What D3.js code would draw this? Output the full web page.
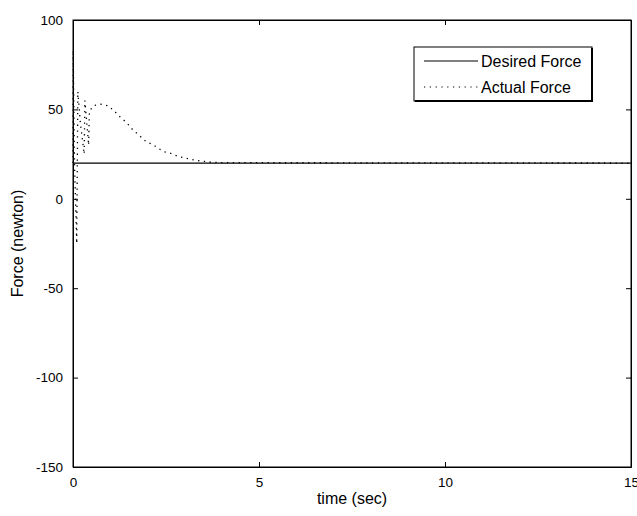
<!DOCTYPE html>
<html>
<head>
<meta charset="utf-8">
<script src="https://cdn.jsdelivr.net/npm/d3@7.9.0/dist/d3.min.js"></script>
<style>
  body { margin: 0; background: #fff; }
  svg text { font-family: "Liberation Sans", Arial, sans-serif; fill: #000; }
</style>
</head>
<body>
<svg id="chart" width="637" height="516"></svg>
<script>
// desired force is constant
const desiredTime = [0, 15];
const desiredForce = [20, 20];

// actual force (rapid transient, then a hump that settles)
const actualTime = [0, 0.005, 0.04, 0.1, 0.13, 0.2, 0.3, 0.32, 0.42, 0.44,
  0.56, 0.75, 0.93, 1.1, 1.26, 1.45, 1.61, 1.8, 1.96, 2.15, 2.31, 2.47, 2.66,
  2.82, 3.0, 3.2, 3.35, 3.51, 3.7, 4.0, 15];
const actualForce = [20, 83, 20, -25, 60, 42, 25, 55, 30, 49,
  52.1, 52.9, 52.1, 49.3, 45.9, 42.4, 38.5, 35.1, 32.1, 30.3, 28, 26.3, 25.2,
  23.7, 22.9, 22, 21.4, 21.0, 20.5, 20.2, 20];

const xTicks = [0, 5, 10, 15];
const yTicks = [100, 50, 0, -50, -100, -150];

const svg = d3.select('#chart');
const margin = { left: 73, right: 6, top: 20, bottom: 49 };
const W = 637, H = 516;

const x = d3.scaleLinear().domain([0, 15]).range([margin.left, W - margin.right]);
const y = d3.scaleLinear().domain([-150, 100]).range([H - margin.bottom, margin.top]);

// box
svg.append('rect')
  .attr('x', x(0)).attr('y', y(100))
  .attr('width', x(15) - x(0)).attr('height', y(-150) - y(100))
  .attr('fill', '#fff').attr('stroke', '#000').attr('stroke-width', 1);

// axes, ticks pointing in, mirrored on top and right
const fmt = d => String(d);
const gx = svg.append('g').attr('transform', `translate(0,${y(-150)})`)
  .call(d3.axisBottom(x).tickValues(xTicks).tickFormat(fmt).tickSizeInner(-5).tickSizeOuter(0).tickPadding(10));
const gy = svg.append('g').attr('transform', `translate(${x(0)},0)`)
  .call(d3.axisLeft(y).tickValues(yTicks).tickFormat(fmt).tickSizeInner(-5).tickSizeOuter(0).tickPadding(10));
svg.append('g').attr('transform', `translate(0,${y(100)})`)
  .call(d3.axisTop(x).tickValues(xTicks).tickFormat('').tickSizeInner(-5).tickSizeOuter(0));
svg.append('g').attr('transform', `translate(${x(15)},0)`)
  .call(d3.axisRight(y).tickValues(yTicks).tickFormat('').tickSizeInner(-5).tickSizeOuter(0));
svg.selectAll('.domain').attr('stroke', '#000');
svg.selectAll('.tick line').attr('stroke', '#000');
svg.selectAll('.tick text').attr('font-size', 13.5).attr('font-family', null);
gx.selectAll('.tick text').attr('dy', '0.71em');

// lines
const line = d3.line().x(d => x(d[0])).y(d => y(d[1]));
svg.append('path')
  .datum(d3.zip(desiredTime, desiredForce))
  .attr('d', line).attr('fill', 'none').attr('stroke', '#000').attr('stroke-width', 1.2);
svg.append('path')
  .datum(d3.zip(actualTime, actualForce))
  .attr('d', line).attr('fill', 'none').attr('stroke', '#000').attr('stroke-width', 1.3)
  .attr('stroke-dasharray', '1.3,4.5');

// axis labels
svg.append('text')
  .attr('x', (x(0) + x(15)) / 2).attr('y', 504)
  .attr('text-anchor', 'middle').attr('font-size', 16).text('time (sec)');
svg.append('text')
  .attr('transform', `translate(23,${(y(100) + y(-150)) / 2}) rotate(-90)`)
  .attr('text-anchor', 'middle').attr('font-size', 16).text('Force (newton)');

// legend
const lg = svg.append('g');
lg.append('rect').attr('x', 414).attr('y', 47).attr('width', 178).attr('height', 54)
  .attr('fill', '#fff').attr('stroke', '#000').attr('stroke-width', 1);
lg.append('line').attr('x1', 415).attr('x2', 593).attr('y1', 101).attr('y2', 101).attr('stroke', '#000').attr('stroke-width', 2);
lg.append('line').attr('x1', 592).attr('x2', 592).attr('y1', 48).attr('y2', 102).attr('stroke', '#000').attr('stroke-width', 2);
const items = [
  { label: 'Desired Force', dash: null },
  { label: 'Actual Force', dash: '1.2,4.6' }
];
items.forEach((it, i) => {
  const yy = 61 + i * 26;
  lg.append('line').attr('x1', 424).attr('x2', 478).attr('y1', yy).attr('y2', yy)
    .attr('stroke', '#000').attr('stroke-width', 1.2).attr('stroke-dasharray', it.dash);
  lg.append('text').attr('x', 481).attr('y', yy + 6).attr('font-size', 16).text(it.label);
});
</script>
</body>
</html>
